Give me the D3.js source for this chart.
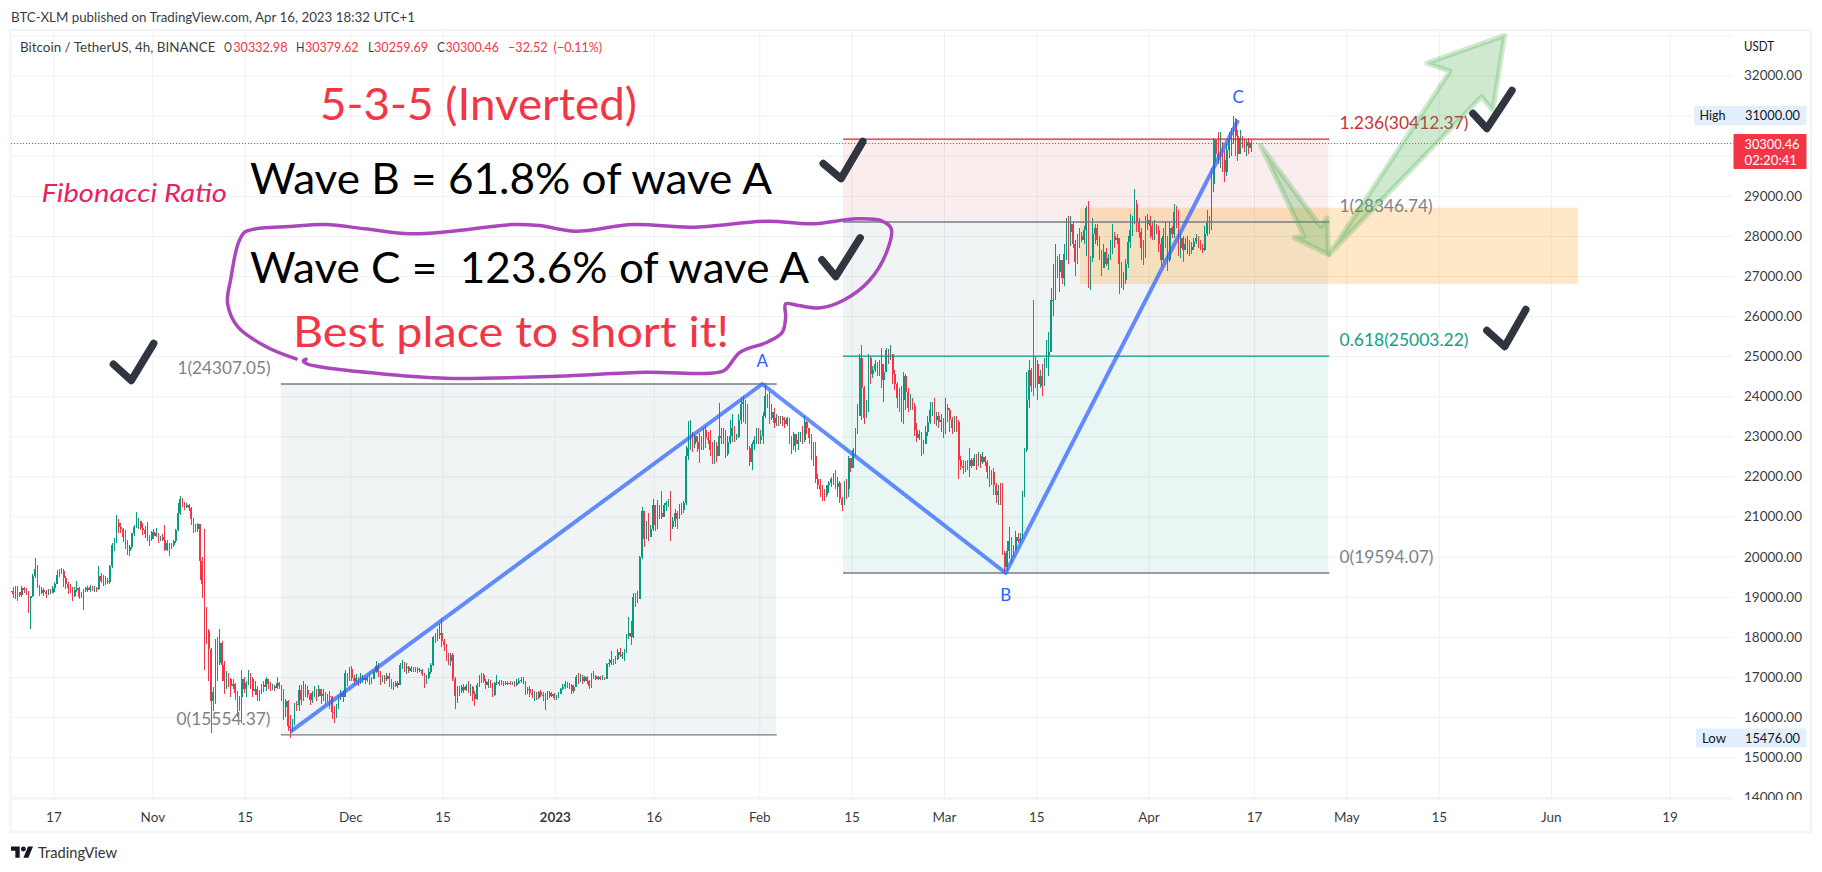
<!DOCTYPE html>
<html><head><meta charset="utf-8">
<script src="https://cdn.jsdelivr.net/npm/d3@7/dist/d3.min.js"></script>
<style>html,body{margin:0;background:#fff}svg{display:block}text{font-family:Lato,"Noto Sans",sans-serif}</style>
</head><body><svg id="c" width="1822" height="872"></svg>
<script>
// ---------- data (prices, 8-hour candles from 10 Oct 2022) ----------
const closeOct=[19150,19080,19200,19120,19050,19210,19170,19090,18980,19010,19520,19690,19280,19100,19170,19130,19060,19150,19100,19220,19330,19550,19590,19640,19480,19330,19230,19200,19010,19170,19230,19000,19040,19180,19230,19170,19250,19190,19220,19190,19530,19400,19480,19400,19370,19760,20290,20380,20830,20750,20680,20500,20380,20130,20230,20580,20740,20820,20900,20720,20670,20560,20520,20430,20620,20520,20580,20440,20500,20420,20170,20330,20230,20290,20380,20670,21080,21450,21320,21240,21290,21220,20950,20780,20680,20810,19900,19330,18500,18150,17700,16400,16620,17900,17350,17850,17300,16900,17050,16950,16780,16830,16600,16400,16500,16950,16700,16850,17000,16950,16650,16700,16550,16620,16800,16750,16950,16830,16700,16780,16720,16850,16780];
const highOct=[19330,19250,19270,19280,19130,19260,19250,19230,19140,19020,19560,19960,19800,19300,19240,19220,19180,19200,19190,19260,19370,19680,19700,19720,19690,19530,19370,19320,19250,19240,19400,19240,19130,19200,19240,19260,19290,19280,19260,19240,19770,19590,19540,19520,19460,19790,20330,20460,21050,20940,20850,20720,20660,20420,20280,20600,20790,21110,20960,20900,20830,20760,20860,20550,20650,20700,20720,20600,20520,20560,20800,20420,20350,20340,20420,20700,21330,21520,21460,21360,21340,21320,21240,20960,20820,20830,20800,20000,20700,18750,18200,17720,16750,17950,18000,18200,17900,17400,17150,17100,16980,16950,16860,16650,16520,17170,17000,16900,17170,17100,17000,16900,16780,16680,16830,16900,17000,16960,16880,16830,16800,16990,16880];
const lowOct=[19050,18980,18950,18900,19000,19000,19100,19040,18600,18200,18990,19480,19230,19030,19060,19020,18970,19040,19060,19090,19120,19310,19500,19560,19250,19200,19080,19100,18900,18990,19130,18950,18960,18670,19130,19110,19130,19150,19130,19120,19170,19350,19280,19300,19310,19330,19730,20140,20350,20600,20580,20370,20200,20040,20020,20200,20510,20720,20700,20660,20550,20470,20400,20270,20400,20440,20490,20350,20400,20380,20140,20140,20020,20180,20240,20340,20640,21040,21230,21160,21220,21130,20800,20600,20610,20620,19430,18970,17170,17830,16900,15600,16150,16330,16900,17300,16900,16580,16700,16750,16500,16700,16430,16000,16150,15850,16600,16500,16800,16700,16500,16550,16400,16400,16580,16620,16650,16700,16640,16680,16660,16690,16700];

const closeDec=[16700,16250,16400,15780,15720,15850,16330,16300,16670,16420,16750,16680,16550,16430,16590,16680,16520,16690,16520,16580,16440,16530,16500,16130,16100,16280,16510,16600,16500,17100,16950,17200,16980,16900,16980,16850,16920,16970,16930,16980,16870,16960,17130,17280,17120,16900,16980,16950,17020,16940,16730,16780,16840,16800,17300,17330,17220,17250,17160,17230,17190,17200,17170,17180,17080,16900,16980,17130,17300,18000,17960,18050,18100,17900,17800,17550,17400,17550,16950,16520,16720,16640,16750,16680,16770,16700,16750,16580,16450,16800,16880,17060,16900,16800,16880,16820,16550,16850,16880,16830];
const highDec=[16800,16700,16450,16420,16040,15950,16360,16400,16800,16800,16900,16820,16780,16600,16640,16780,16700,16800,16700,16700,16620,16580,16650,16520,16280,16330,16560,16680,16650,17170,17020,17250,17270,17050,17080,17000,17100,17050,17000,17020,17080,17000,17180,17400,17340,17150,17050,17040,17100,17100,16950,16880,16890,16900,17350,17420,17370,17350,17280,17280,17260,17240,17250,17220,17200,17110,17040,17230,17350,18020,18100,18200,18330,18470,17950,17830,17600,17590,17600,17000,16780,16780,16800,16820,16830,16900,16830,16780,16640,16850,17050,17100,17100,16950,16950,16920,16850,16880,17040,16930];
const lowDec=[16400,15920,16000,15650,15476,15650,15800,16150,16150,16300,16400,16500,16470,16300,16350,16500,16400,16500,16330,16400,16300,16370,16200,15950,15850,15990,16200,16420,16380,16500,16780,16900,16900,16800,16820,16780,16830,16850,16820,16880,16800,16830,16950,17100,17000,16800,16880,16830,16900,16750,16700,16680,16750,16720,16800,17200,17130,17080,17100,17130,17120,17130,17110,17120,17020,16730,16830,16950,17080,17280,17850,17900,17950,17750,17650,17400,17300,17280,16900,16200,16350,16520,16600,16600,16640,16600,16520,16400,16280,16420,16750,16850,16850,16700,16730,16720,16500,16520,16800,16780];

const closeJan=[16860,16820,16860,16840,16830,16860,16790,16860,16900,16930,16880,16670,16700,16610,16540,16580,16470,16620,16560,16520,16450,16600,16520,16580,16470,16490,16580,16700,16760,16830,16780,16800,16640,16760,17000,16920,17010,16900,17000,16890,16770,17060,17020,16960,17000,16950,17000,16960,17320,17350,17430,17360,17460,17620,17540,17560,17620,18020,18100,18000,19000,18870,18950,20000,21150,20450,20800,20500,20700,21300,20800,21200,21100,20990,21300,21350,21400,20750,20900,21100,20950,21250];
const highJan=[16920,16900,16900,16890,16900,16880,16900,16960,16980,17000,17010,16900,16760,16770,16700,16650,16620,16660,16680,16630,16600,16660,16640,16630,16600,16540,16620,16730,16830,16900,16880,16860,16830,16790,17050,17100,17080,17040,17030,17020,16920,17090,17140,17060,17030,17020,17040,17010,17350,17450,17650,17460,17530,17700,17720,17620,17700,18060,18500,18400,19100,19100,19150,20020,21250,21000,20900,21100,20800,21450,21300,21420,21280,21650,21350,21400,21450,21650,21000,21200,21150,21320];
const lowJan=[16800,16780,16810,16790,16790,16800,16740,16770,16820,16850,16830,16560,16570,16500,16480,16400,16420,16450,16500,16400,16180,16430,16480,16500,16420,16420,16470,16570,16680,16700,16730,16700,16570,16610,16740,16820,16880,16820,16880,16820,16700,16720,16950,16920,16930,16920,16930,16930,16950,17250,17300,17300,17330,17420,17500,17440,17400,17600,17950,17800,17980,18750,18850,18950,19950,20250,20650,20400,20550,20650,20650,20700,20950,20950,20980,21150,21250,20400,20700,20750,20700,20950];

const closeFeb=[21170,21350,22500,22700,23050,22800,23000,22850,22680,22950,23150,22950,22900,22650,22400,22750,22500,23000,22950,23100,22550,22850,23000,23200,22950,22980,23400,23800,23850,23500,22700,22350,22800,22900,23150,22900,23000,23500,24000,23900,23450,23600,23330,23450,23350,23450,23400,23300,23450,22950,22750,23050,22800,22900,23000,22900,23350,23200,22950,22500,22500,21950,21780,21700,21600,21550,21780,21830,21950,22000,21750,21850,21450,21300,21850,21700,22450,22200,22650,23100,23500,24950];
const highFeb=[21350,21400,22750,23380,23400,23100,23050,23000,23080,23000,23200,23250,23100,23150,22850,22900,22850,23830,23200,23200,23150,23000,23400,23550,23250,23050,23550,23950,24000,23900,23800,22750,22850,23000,23200,23200,23150,23600,24320,24050,24100,23800,23700,23550,23500,23500,23500,23480,23480,23450,23000,23100,23050,23100,23100,23250,23500,23380,23200,23050,22850,22850,22050,21950,21800,21700,21800,21880,22000,22080,22150,22000,21900,21500,21900,21950,22500,22450,22700,23200,23800,25050];
const lowFeb=[21050,21100,21300,22400,22650,22600,22700,22600,22330,22650,22650,22700,22800,22500,22300,22300,22350,22500,22800,22800,22450,22500,22800,22850,22850,22900,22950,23300,23350,23300,22650,22250,22150,22650,22800,22800,22800,22800,23450,23700,23300,23400,23200,23250,23250,23300,23250,23220,23250,22800,22550,22650,22600,22650,22850,22800,22850,23050,22800,22400,22250,21850,21700,21500,21380,21400,21480,21600,21750,21800,21700,21500,21350,21150,21400,21450,21500,22100,22200,22500,23050,23500];

const closeMar=[24200,23450,23700,24950,24550,24650,24800,24650,24800,24400,24600,25150,24950,25050,24550,24300,23950,23800,23900,24500,24100,23700,23850,23750,23150,22950,23050,22750,22800,23100,23350,23650,23700,23400,23500,23350,23400,23050,23700,23650,23400,23200,23450,23350,22400,22250,22200,22350,22250,22400,22250,22450,22280,22500,22350,22480,22350,22100,21850,22100,21800,21550,21650,21500,20100,19750,20150,20400,20050,20200,20500,20400,20450,21500,22650,23900,24650,24250,24200,24800,24300,24500,24250,24800,25000,25100];
const highMar=[25290,24250,23900,25050,25000,24750,24900,24850,24900,25210,24800,25200,25180,25280,25050,24650,24350,24200,24250,24600,24550,24200,24050,23950,23830,23330,23150,23100,22900,23250,23500,23850,23850,23950,23600,23600,23550,23450,23950,23800,23700,23480,23500,23500,23400,22500,22400,22380,22400,22700,22450,22550,22550,22600,22550,22600,22520,22400,22250,22150,22200,21850,21800,21850,21830,20150,20400,20750,20500,20300,20650,20600,20600,21650,22700,24600,24900,24700,26400,25000,24900,24650,24800,24950,25400,25600];
const lowMar=[23400,23300,23450,23600,24300,24450,24600,24500,24500,24200,23870,24600,24800,24900,24300,24150,23700,23600,23350,23300,23650,23600,23650,23650,23000,22870,22900,22500,22550,22800,23000,23300,23500,23300,23250,23200,23100,22950,23050,23350,23100,23050,23100,23100,21950,22150,22050,22100,22150,21980,22200,22300,22150,22250,22200,22300,22250,21950,21750,21800,21550,21350,21300,21300,20030,19600,19650,19950,19850,20000,20150,20350,20350,20450,21500,22600,23700,24100,24000,24200,23900,24200,24000,24250,24700,24500];

const closeApr=[26400,26400,27300,27100,27400,26950,27550,28300,28100,28300,27800,27350,27800,28000,27900,28150,28700,26800,27450,28050,28200,27900,27600,27200,27600,27300,27450,27750,28000,27900,27950,27300,26900,26900,27300,27850,28150,28400,28800,28350,28100,27700,27500,28300,28400,28250,28000,28250,28150,27800,27400,28000,27950,27400,28200,28050,28600,28300,27700,27950,27650,27800,27900,27650,27720,27850,27950,27850,27700,27650,28050,28350,28250,29300,30400,30050,29950,30250,29900,29600,30150,30400,30550,30920,30500,30050,30450,30350,30230,30330,30200,30300.46];
const highApr=[26700,27300,27800,27500,27560,27300,27800,28450,28500,28500,28350,27900,28050,28200,28100,28250,28750,28880,27500,28450,28300,28300,28000,27650,27800,27700,27550,27900,28300,28100,28050,27950,27350,27100,27420,28000,28550,28500,29180,28900,28450,28200,27900,28500,28550,28500,28350,28400,28300,28250,27950,28200,28350,28000,28350,28250,28800,28750,28650,28050,28000,27950,28000,27900,27850,27950,28050,28000,27900,27800,28250,28650,28500,29700,30430,30300,30600,30600,30350,30150,30300,30600,30700,31000,30950,30650,30650,30500,30420,30400,30430,30380];
const lowApr=[25100,26000,26700,26950,26600,26800,26750,27400,27300,27750,27700,27000,27300,27700,27850,27800,27500,26700,26650,27350,27800,27750,27400,27000,27200,27250,27150,27400,27550,27700,27800,26550,26700,26650,26800,27200,27700,28000,28300,28100,27950,27400,27280,27450,28150,27950,27900,27900,28050,27600,27250,27350,27700,27120,27350,27950,27950,28200,27500,27450,27350,27650,27550,27500,27550,27650,27800,27700,27650,27580,27620,28000,28050,28150,29100,29850,29800,29700,29600,29350,29500,29950,30000,30300,30000,29870,30250,30200,30100,30000,30050,30100];

const firstCandleDay=-6.43;       // days after 17 Oct 2022
const candlesPerDay=3;

const priceTicks=[33000,32000,31000,30000,29000,28000,27000,26000,25000,24000,23000,22000,21000,20000,19000,18000,17000,16000,15000,14000];
const coveredPriceLabels=[33000,31000,30000];   // gridlines whose label is hidden by USDT, High and last-price tags
const timeTickDates=["2022-10-17","2022-11-01","2022-11-15","2022-12-01","2022-12-15","2023-01-01","2023-01-16","2023-02-01","2023-02-15","2023-03-01","2023-03-15","2023-04-01","2023-04-17","2023-05-01","2023-05-15","2023-06-01","2023-06-19"];
const timeTickLabels=["17","Nov","15","Dec","15","2023","16","Feb","15","Mar","15","Apr","17","May","15","Jun","19"];

const waveDays=[35.95,107.45,144.35,179.6];
const wavePrices=[15636,24307.05,19594.07,30890];
const waveLabels=["","A","B","C"];

const fibLowPrices=[15554.37,24307.05];
const fibHighPrices=[19594.07,25003.22,28346.74,30412.37];
const fibHighRatios=["0","0.618","1","1.236"];
const lastPrice=30300.46, highPrice=31000, lowPrice=15476;

const zoneDays=[155.6,231.1], zonePrices=[28703,26800];
const fibLowDays=[34.47,109.5], fibHighDays=[119.7,193.26];

const loopDays=[36.8,32.4,28,26.4,26.9,28,29,30.7,35.7,41.2,47.2,54,60.1,69.6,73.6,79.1,87.9,96.7,108.2,114.9,121.7,125.4,127,126.4,123.7,119.7,116.3,112.9,111,111,110.5,108.2,104.1,101.7,99.4,89.8,76.3,59.4,49.3,42.5,38.4,37.9,38.3];
const loopPrices=[24934,25224,25723,26314,26937,27810,28092,28177,28234,28284,28177,28052,28109,28284,28259,28117,28284,28217,28366,28301,28426,28384,28184,27635,26887,26388,26206,26264,26306,25972,25598,25349,25099,24643,24575,24600,24501,24451,24568,24685,24810,24892,24925];

const upArrowDays=[193.4,211.7,208.2,220,218.2,216.5];
const upArrowPrices=[27536,32107,32307,32998,31127,31476];
const downArrowDays=[183,192.1,193.1,193.3,188.1,189.6];
const downArrowPrices=[30254,28234,28451,27536,27952,27985];

const checkDays=[[9.1,11.8,15.2],[116.7,119.4,122.7],[116.5,118.6,122.3],[215.2,217.3,221.1],[217.3,220,223.2]];
const checkPrices=[[24800,24393,25316],[29805,29431,30354],[27404,26987,27952],[31052,30678,31626],[25640,25241,26164]];

// ---------- scales ----------
const L=11,R=1733.5,T=31,B=799,DAY=864e5,base=Date.UTC(2022,9,17);
const x=d3.scaleUtc().domain([new Date("2022-10-17"),new Date("2023-06-19")]).range([53.4,1669.6]);
const y=d3.scaleLinear().domain([14000,33000]).range([797.3,35.4]);
const X=d=>x(new Date(base+d*DAY));
const C={up:"#089981",down:"#f23645",grid:"#f0f3fa",gray:"#787b86",text:"#131722",blue:"#2962ff"};

const svg=d3.select("#c");
const defs=svg.append("defs");
defs.append("clipPath").attr("id","plot").append("rect").attr("x",L).attr("y",T).attr("width",R-L).attr("height",B-T);
defs.append("clipPath").attr("id","ax").append("rect").attr("x",-2000).attr("y",T).attr("width",2100).attr("height",800-T);

function label(g,s,px,py,size,fill,w,opt={}){
  const t=g.append("text").attr("x",px).attr("y",py).attr("font-size",size).attr("fill",fill).text(s);
  if(w){t.attr("textLength",w).attr("lengthAdjust","spacingAndGlyphs");}
  if(opt.anchor)t.attr("text-anchor",opt.anchor);
  if(opt.italic)t.attr("font-style","italic");
  if(opt.weight)t.attr("font-weight",opt.weight);
  return t;
}

// panel
svg.append("rect").attr("x",10.5).attr("y",30).attr("width",1800.5).attr("height",802).attr("fill","#fff").attr("stroke",C.grid).attr("stroke-width",2);

// grid + axes
const yG=svg.append("g").attr("transform",`translate(${R},0)`).attr("clip-path","url(#ax)")
 .call(d3.axisRight(y).tickValues(priceTicks).tickSize(-(R-L)).tickSizeOuter(0).tickPadding(10.5).tickFormat(d=>coveredPriceLabels.includes(d)?"":d3.format(".2f")(d)));
yG.select(".domain").remove();
yG.selectAll("line").attr("stroke","#eff0f3").attr("stroke-width",1);
yG.selectAll("text").attr("font-size",13.5).attr("fill",C.text).attr("opacity",.85);

const xG=svg.append("g").attr("transform",`translate(0,${B})`)
 .call(d3.axisBottom(x).tickValues(timeTickDates.map(d=>new Date(d))).tickSizeInner(-(B-T)).tickSizeOuter(0).tickPadding(13).tickFormat((d,i)=>timeTickLabels[i]));
xG.select(".domain").remove();
xG.selectAll("line").attr("stroke","#eff0f3").attr("stroke-width",1);
xG.selectAll("text").attr("font-size",13.5).attr("fill",C.text).attr("opacity",.85).attr("font-weight",(d,i)=>timeTickLabels[i]==="2023"?700:400);
svg.append("line").attr("x1",L).attr("x2",R).attr("y1",B).attr("y2",B).attr("stroke","#eff0f3");
svg.append("line").attr("x1",R).attr("x2",R).attr("y1",T).attr("y2",B).attr("stroke","#fff");

// fib boxes
const gF=svg.append("g");
gF.append("rect").attr("x",X(fibLowDays[0])).attr("width",X(fibLowDays[1])-X(fibLowDays[0])).attr("y",y(fibLowPrices[1])).attr("height",y(fibLowPrices[0])-y(fibLowPrices[1])).attr("fill","#78909c").attr("opacity",.1);
const fibFills=["#089981","#78909c","#b71c1c"], fibOp=[.09,.1,.08];
d3.range(3).forEach(i=>gF.append("rect").attr("x",X(fibHighDays[0])).attr("width",X(fibHighDays[1])-X(fibHighDays[0])).attr("y",y(fibHighPrices[i+1])).attr("height",y(fibHighPrices[i])-y(fibHighPrices[i+1])).attr("fill",fibFills[i]).attr("opacity",fibOp[i]));
gF.append("rect").attr("x",X(zoneDays[0])).attr("width",X(zoneDays[1])-X(zoneDays[0])).attr("y",y(zonePrices[0])).attr("height",y(zonePrices[1])-y(zonePrices[0])).attr("fill","#ff9800").attr("opacity",.22);

// candles
const closes=[].concat(closeOct,closeDec,closeJan,closeFeb,closeMar,closeApr);
const highs=[].concat(highOct,highDec,highJan,highFeb,highMar,highApr);
const lows=[].concat(lowOct,lowDec,lowJan,lowFeb,lowMar,lowApr);
const candles=closes.map((c,i)=>{const o=i?closes[i-1]:c;return{d:firstCandleDay+i/candlesPerDay,o,c,h:Math.max(highs[i],o,c),l:Math.min(lows[i],o,c)};});
const gC=svg.append("g").attr("clip-path","url(#plot)").attr("shape-rendering","crispEdges");
gC.selectAll("line").data(candles).join("line").attr("x1",d=>X(d.d)).attr("x2",d=>X(d.d)).attr("y1",d=>y(d.h)).attr("y2",d=>y(d.l)).attr("stroke",d=>d.c>=d.o?C.up:C.down).attr("stroke-width",1);
gC.selectAll("rect").data(candles).join("rect").attr("x",d=>X(d.d)-.8).attr("width",1.6).attr("y",d=>y(Math.max(d.o,d.c))).attr("height",d=>Math.max(1,Math.abs(y(d.o)-y(d.c)))).attr("fill",d=>d.c>=d.o?C.up:C.down);

// current price
const lastY=Math.floor(y(lastPrice))+.5;
svg.append("line").attr("x1",L).attr("x2",R).attr("y1",lastY).attr("y2",lastY).attr("stroke",C.down).attr("stroke-dasharray","1 2");

// fib level lines + labels
const lv=(d0,d1,p,col)=>svg.append("line").attr("x1",X(d0)).attr("x2",X(d1)).attr("y1",y(p)).attr("y2",y(p)).attr("stroke",col).attr("stroke-width",1.3);
fibLowPrices.forEach(p=>lv(fibLowDays[0],fibLowDays[1]+.15,p,C.gray));
const fibCols=[C.gray,C.up,C.gray,"#e02020"];
fibHighPrices.forEach((p,i)=>lv(fibHighDays[0],fibHighDays[1]+.15,p,fibCols[i]));
const gT=svg.append("g");
const fibText=(s,px,p,col,w,anchor)=>label(gT,s,px,y(p)-16,17,col,w,{anchor}).attr("dy",".35em").attr("opacity",.95);
fibText(`1(${fibLowPrices[1]})`,270.5,fibLowPrices[1],C.gray,93,"end");
fibText(`0(${fibLowPrices[0]})`,270.5,fibLowPrices[0],C.gray,94,"end");
const fibLabelWidth=[94,129,93,129], fibLabelCols=[C.gray,C.up,C.gray,"#c62828"];
fibHighPrices.forEach((p,i)=>fibText(`${fibHighRatios[i]}(${p})`,1339.5,p,fibLabelCols[i],fibLabelWidth[i]));

// wave
svg.append("path").attr("d",d3.line().x((d,i)=>X(waveDays[i])).y((d,i)=>y(d))(wavePrices)).attr("fill","none").attr("stroke",C.blue).attr("stroke-opacity",.72).attr("stroke-width",4).attr("stroke-linejoin","round");
waveLabels.forEach((s,i)=>{if(s)label(gT,s,X(waveDays[i]),y(wavePrices[i])+(s==="B"?28:-17),17,C.blue,null,{anchor:"middle"});});

// arrows
const poly=(ds,ps)=>d3.line().x((d,i)=>X(ds[i])).y((d,i)=>y(d))(ps)+"Z";
[[downArrowDays,downArrowPrices],[upArrowDays,upArrowPrices]].forEach(([a,b])=>svg.append("path").attr("d",poly(a,b)).attr("fill","#4caf50").attr("fill-opacity",.27).attr("stroke","#4caf50").attr("stroke-opacity",.28).attr("stroke-width",5).attr("stroke-linejoin","round"));

// hand-drawn loop
svg.append("path").attr("d",d3.line().x((d,i)=>X(loopDays[i])).y((d,i)=>y(d)).curve(d3.curveCatmullRom)(loopPrices)).attr("fill","none").attr("stroke","#ab47bc").attr("stroke-width",3.5).attr("stroke-linecap","round");

// notes
label(gT,"5-3-5 (Inverted)",320,120,44,C.down,317);
label(gT,"Wave B = 61.8% of wave A",250,193.5,43,"#000",522);
label(gT,"Wave C =  123.6% of wave A",250,283,43,"#000",559).attr("xml:space","preserve").style("white-space","pre");
label(gT,"Best place to short it!",293,346.5,43,C.down,436);
label(gT,"Fibonacci Ratio",41.5,201.5,26,"#e91e63",185.5,{italic:true});

// check marks
checkPrices.forEach((ps,k)=>svg.append("path").attr("d",d3.line().x((d,i)=>X(checkDays[k][i])).y(d=>y(d))(ps)).attr("fill","none").attr("stroke","#2a2e39").attr("stroke-width",7.5).attr("stroke-linecap","round").attr("stroke-linejoin","round").attr("opacity",.97));

// price scale tags
const gA=svg.append("g");
gA.append("rect").attr("x",1694).attr("y",y(highPrice)-9.5).attr("width",112.5).attr("height",19).attr("rx",1).attr("fill","#e3effd");
label(gA,"High",1699.5,y(highPrice)+4.5,13.5,C.text,26);
label(gA,d3.format(".2f")(highPrice),1745,y(highPrice)+4.5,13.5,C.text,55);
gA.append("rect").attr("x",1696).attr("y",y(lowPrice)-9.5).attr("width",110.5).attr("height",19).attr("rx",1).attr("fill","#e3effd");
label(gA,"Low",1702,y(lowPrice)+4.5,13.5,C.text,24);
label(gA,d3.format(".2f")(lowPrice),1745,y(lowPrice)+4.5,13.5,C.text,55);
gA.append("rect").attr("x",R).attr("y",134).attr("width",73).attr("height",35).attr("rx",1).attr("fill",C.down);
label(gA,d3.format(".2f")(lastPrice),1744.5,149,13.5,"#fff",55);
label(gA,"02:20:41",1744.5,165,13.5,"#fff",52.5);
label(gA,"USDT",1744,51,13.5,C.text,30);

// header
const hd=svg.append("g");
label(hd,"BTC-XLM published on TradingView.com, Apr 16, 2023 18:32 UTC+1",11,21.5,13,C.text,404).attr("opacity",.85);
const ln=52;
label(hd,"Bitcoin / TetherUS, 4h, BINANCE",20,ln,13,C.text,195.5).attr("opacity",.85);
[["O",224,8],["H",296,8.5],["L",368,6],["C",437,8]].forEach(a=>label(hd,a[0],a[1],ln,13,C.text,a[2]).attr("opacity",.85));
[["30332.98",233.3,54.2],["30379.62",305,53.6],["30259.69",374,54.2],["30300.46",445.6,53.4],["\u221232.52",508,39.6],["(\u22120.11%)",553.6,48.4]].forEach(a=>label(hd,a[0],a[1],ln,13,C.down,a[2]));

// footer
const lg=svg.append("g").attr("transform","translate(11,844) scale(.62)");
lg.append("path").attr("d","M14 22H7V11H0V4h14v18zM28 22h-8l7.5-18h8L28 22z").attr("fill","#131722");
lg.append("circle").attr("cx",20).attr("cy",8).attr("r",4).attr("fill","#131722");
label(svg,"TradingView",38,858,15,"#333",79);
</script></body></html>
